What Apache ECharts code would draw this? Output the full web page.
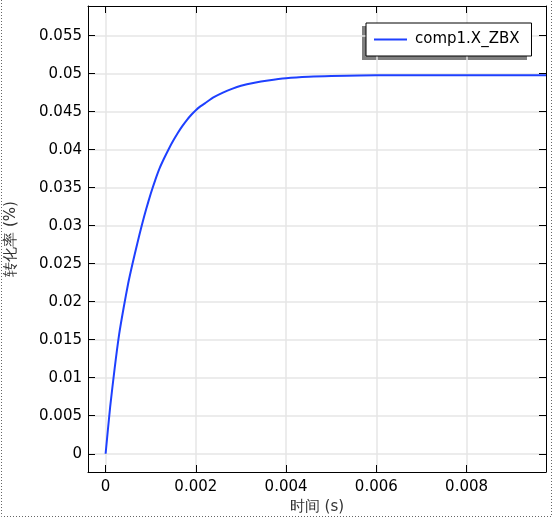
<!DOCTYPE html>
<html>
<head>
<meta charset="utf-8">
<script src="https://cdn.jsdelivr.net/npm/echarts@6/dist/echarts.min.js"></script>
<style>
html,body{margin:0;padding:0;background:#fff;}
#main{width:553px;height:518px;}
</style>
</head>
<body>
<div id="main"></div>
<script>
// Data
var timeS = [0, 0.0001, 0.0002, 0.0003, 0.0004, 0.0005, 0.0006, 0.0007, 0.0008, 0.0009, 0.001, 0.0011, 0.0012, 0.0013, 0.0014, 0.0015, 0.0016, 0.0017, 0.0018, 0.0019, 0.002, 0.0021, 0.0022, 0.0024, 0.0026, 0.0028, 0.003, 0.0033, 0.0036, 0.004, 0.0045, 0.005, 0.006, 0.007, 0.008, 0.009, 0.00976];
var conversion = [0, 0.0061, 0.0112, 0.0157, 0.0192, 0.0224, 0.0251, 0.0276, 0.0300, 0.0322, 0.0342, 0.0360, 0.0376, 0.0389, 0.0401, 0.0412, 0.0422, 0.0431, 0.0439, 0.0446, 0.0452, 0.0457, 0.0461, 0.0469, 0.0475, 0.0480, 0.0484, 0.0488, 0.0491, 0.0494, 0.0496, 0.0497, 0.0498, 0.0498, 0.0498, 0.0498, 0.0498];
var xTicks = [0, 0.002, 0.004, 0.006, 0.008];
var yTicks = [0, 0.005, 0.01, 0.015, 0.02, 0.025, 0.03, 0.035, 0.04, 0.045, 0.05, 0.055];
var seriesName = 'comp1.X_ZBX';
var xName = '时间 (s)';
var yName = '转化率 (%)';

var points = timeS.map(function (t, i) { return [t, conversion[i]]; });
var fmt = function (v) { return String(+(+v).toFixed(4)); };

var chart = echarts.init(document.getElementById('main'), null, {renderer: 'canvas'});
var font = 'DejaVu Sans';
var gridColor = '#e6e6e6';

function xAxisCfg(pos, main) {
  return {
    type: 'value', position: pos,
    min: -0.00039, max: 0.00976,
    name: main ? xName : '', nameLocation: 'middle', nameGap: 25,
    nameTextStyle: {fontFamily: font, fontSize: 15, color: '#333'},
    axisLine: {show: true, onZero: false, lineStyle: {color: '#000', width: 1}},
    axisTick: {show: true, inside: true, length: 7, customValues: xTicks, lineStyle: {color: '#000'}},
    axisLabel: {show: main, customValues: xTicks, formatter: fmt, margin: 8, fontFamily: font, fontSize: 15, color: '#000'},
    splitLine: {show: main, lineStyle: {color: gridColor, width: 1.5}}
  };
}
function yAxisCfg(pos, main) {
  return {
    type: 'value', position: pos,
    min: -0.0024, max: 0.0589,
    name: main ? yName : '', nameLocation: 'middle', nameGap: 69,
    nameTextStyle: {fontFamily: font, fontSize: 15, color: '#333'},
    axisLine: {show: true, onZero: false, lineStyle: {color: '#000', width: 1}},
    axisTick: {show: true, inside: true, length: 7, customValues: yTicks, lineStyle: {color: '#000'}},
    axisLabel: {show: main, customValues: yTicks, formatter: fmt, margin: 6, fontFamily: font, fontSize: 15, color: '#000'},
    splitLine: {show: main, lineStyle: {color: gridColor, width: 1.5}}
  };
}

chart.setOption({
  animation: false,
  backgroundColor: '#fff',
  grid: {left: 88, right: 7, top: 6, bottom: 46, containLabel: false, outerBoundsMode: 'none'},
  xAxis: [xAxisCfg('bottom', true), xAxisCfg('top', false)],
  yAxis: [yAxisCfg('left', true), yAxisCfg('right', false)],
  legend: {
    left: 366, top: 23,
    orient: 'vertical',
    padding: [9, 12, 9, 8],
    itemWidth: 33, itemHeight: 2, itemGap: 5,
    icon: 'rect',
    backgroundColor: '#fff',
    borderColor: '#000', borderWidth: 1,
    textStyle: {fontFamily: font, fontSize: 15, color: '#000', padding: [0, 0, 0, 3]},
    data: [seriesName]
  },
  series: [{
    name: seriesName, type: 'line',
    data: points, showSymbol: false, symbol: 'none',
    smooth: 0.2, clip: true,
    lineStyle: {color: '#1e40ff', width: 2},
    itemStyle: {color: '#1e40ff'}
  }],
  graphic: [{
    type: 'rect', silent: true, z: 0, zlevel: 0,
    shape: {x: 362, y: 26, width: 165, height: 34},
    style: {fill: '#808080'}
  }, {
    type: 'polyline', silent: true,
    shape: {points: [[1.5, 0], [1.5, 516.5], [551.5, 516.5], [551.5, 0]]},
    style: {stroke: '#666', lineWidth: 1, lineDash: [1, 2], fill: null}
  }]
});
</script>
</body>
</html>
